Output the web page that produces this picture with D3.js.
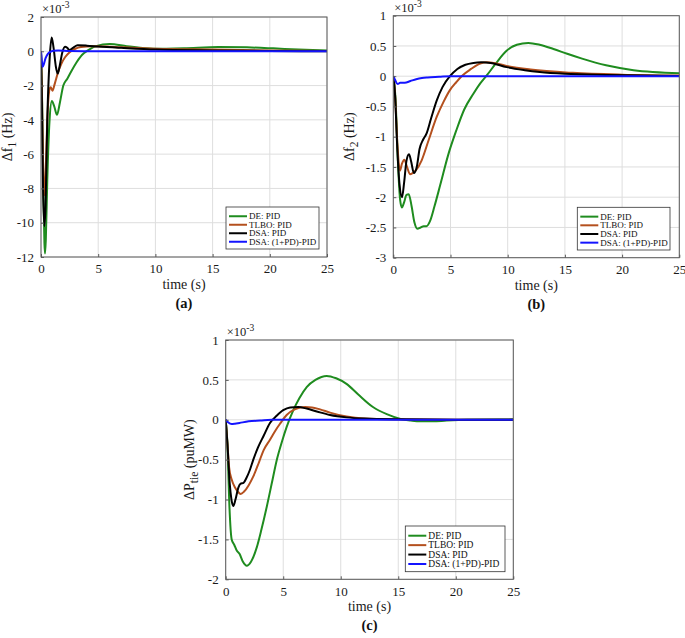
<!DOCTYPE html>
<html><head><meta charset="utf-8">
<script src="https://cdn.jsdelivr.net/npm/d3@7"></script>
<style>
html,body{margin:0;padding:0;background:#fff;}
svg{display:block;font-family:"Liberation Serif","Times New Roman",serif;}
</style></head>
<body>
<svg id="chart" width="685" height="638"></svg>
<script>
// ---------- DATA (values ×10^-3) ----------
const seriesNames = ["DE: PID", "TLBO: PID", "DSA: PID", "DSA: (1+PD)-PID"];
const seriesColors = ["#1f8c1f", "#b4501e", "#000000", "#1414ff"];
const xTicks = [0, 5, 10, 15, 20, 25];

// Panel (a): Δf1
const aTicksY = [-12, -10, -8, -6, -4, -2, 0, 2];
const aT_DE = [0, 0.1, 0.2, 0.3, 0.35, 0.42, 0.55, 0.75, 0.95, 1.15, 1.4, 1.65, 1.95, 2.3, 2.7, 3.1, 3.6, 4.1, 4.8, 6, 7.5, 9.8, 12.5, 15.5, 18, 20.3, 22.5, 25];
const aV_DE = [0, -3, -8, -11.2, -11.8, -11, -7.5, -4, -2.9, -3.2, -3.7, -3, -2, -1.6, -1.1, -0.65, -0.2, 0.05, 0.3, 0.42, 0.3, 0.15, 0.18, 0.25, 0.23, 0.17, 0.1, 0.05];
const aT_TLBO = [0, 0.08, 0.18, 0.3, 0.4, 0.55, 0.75, 0.85, 1.0, 1.2, 1.5, 1.8, 2.1, 2.5, 3, 3.5, 4.5, 6, 8, 10, 15, 20, 25];
const aV_TLBO = [0, -2.5, -6.5, -8.4, -7.2, -4, -2.2, -2.1, -2.3, -1.9, -1.2, -0.7, -0.35, -0.05, 0.15, 0.25, 0.3, 0.27, 0.2, 0.15, 0.1, 0.05, 0.02];
const aT_DSA = [0, 0.08, 0.18, 0.3, 0.4, 0.55, 0.75, 0.93, 1.1, 1.3, 1.46, 1.65, 1.85, 2.1, 2.3, 2.48, 2.8, 3.2, 4, 5, 7, 10, 15, 20, 25];
const aV_DSA = [0, -3, -8, -10.2, -9, -4, -0.5, 0.8, 0.2, -0.9, -1.3, -0.8, -0.1, 0.27, 0.2, 0.08, 0.2, 0.35, 0.33, 0.28, 0.2, 0.1, 0.05, 0.02, 0];
const aT_PD = [0, 0.08, 0.15, 0.25, 0.4, 0.6, 0.8, 1.1, 1.5, 2.5, 5, 25];
const aV_PD = [0, -0.6, -0.9, -0.75, -0.4, -0.15, -0.03, 0.03, 0.05, 0.02, 0, 0];

// Panel (b): Δf2
const bTicksY = [-3, -2.5, -2, -1.5, -1, -0.5, 0, 0.5, 1];
const bT_DE = [0, 0.2, 0.4, 0.6, 0.75, 0.95, 1.15, 1.35, 1.6, 1.85, 2.1, 2.4, 2.65, 2.9, 3.2, 3.6, 4.1, 4.8, 5.5, 6.2, 7, 7.6, 8.2, 9, 9.9, 10.8, 11.8, 12.8, 14, 15.2, 16.5, 18.6, 21, 25];
const bV_DE = [0, -0.4, -1.4, -2.05, -2.17, -2.08, -1.96, -1.95, -2.15, -2.42, -2.52, -2.5, -2.48, -2.48, -2.4, -2.15, -1.8, -1.3, -0.9, -0.55, -0.29, -0.12, 0.02, 0.22, 0.42, 0.52, 0.55, 0.52, 0.45, 0.37, 0.29, 0.18, 0.1, 0.05];
const bT_TLBO = [0, 0.15, 0.35, 0.58, 0.75, 0.96, 1.2, 1.46, 1.7, 2.0, 2.48, 3.1, 3.8, 4.4, 4.95, 5.5, 5.97, 6.8, 7.6, 8.16, 9, 9.9, 12, 15.7, 20, 25];
const bV_TLBO = [0, -0.3, -1.1, -1.56, -1.45, -1.38, -1.5, -1.62, -1.6, -1.55, -1.39, -1.05, -0.67, -0.42, -0.23, -0.1, 0, 0.12, 0.21, 0.23, 0.21, 0.17, 0.11, 0.055, 0.025, 0.01];
const bT_DSA = [0, 0.15, 0.35, 0.55, 0.76, 0.95, 1.15, 1.37, 1.55, 1.8, 2.05, 2.3, 2.6, 2.9, 3.3, 3.8, 4.3, 4.95, 5.6, 6.3, 7.0, 7.7, 8.5, 9.9, 11.5, 12.8, 15, 18.6, 22, 25];
const bV_DSA = [0, -0.3, -1.2, -1.8, -2.0, -1.75, -1.4, -1.29, -1.4, -1.6, -1.5, -1.2, -1.05, -0.95, -0.7, -0.4, -0.18, 0, 0.12, 0.19, 0.22, 0.23, 0.22, 0.15, 0.1, 0.07, 0.04, 0.02, 0.01, 0.005];
const bT_PD = [0, 0.15, 0.38, 0.6, 1, 1.5, 2, 2.5, 3, 4, 5, 25];
const bV_PD = [0, -0.06, -0.13, -0.11, -0.11, -0.08, -0.05, -0.03, -0.02, -0.01, 0, 0];

// Panel (c): ΔPtie
const cTicksY = [-2, -1.5, -1, -0.5, 0, 0.5, 1];
const cT_DE = [0, 0.15, 0.3, 0.52, 0.75, 0.96, 1.2, 1.5, 1.83, 2.2, 2.7, 3.1, 3.57, 4.0, 4.43, 4.9, 5.3, 5.88, 6.4, 7.04, 7.8, 8.78, 9.6, 10.5, 11.5, 12.8, 14, 15.2, 16.1, 16.9, 18, 19.2, 21, 25];
const cV_DE = [0, -0.3, -1.0, -1.5, -1.57, -1.64, -1.68, -1.78, -1.83, -1.78, -1.6, -1.38, -1.09, -0.8, -0.51, -0.27, -0.09, 0.12, 0.27, 0.41, 0.5, 0.55, 0.52, 0.45, 0.32, 0.16, 0.07, 0.01, -0.01, -0.02, -0.02, -0.01, 0, 0.005];
const cT_TLBO = [0, 0.15, 0.3, 0.52, 0.81, 1.05, 1.3, 1.6, 2.0, 2.4, 2.9, 3.3, 3.85, 4.3, 4.72, 5.3, 6, 6.9, 7.5, 8.2, 9.07, 10.5, 12, 15, 20, 25];
const cV_TLBO = [0, -0.3, -0.6, -0.75, -0.85, -0.9, -0.93, -0.9, -0.82, -0.71, -0.53, -0.38, -0.25, -0.14, -0.05, 0.06, 0.13, 0.16, 0.155, 0.13, 0.09, 0.04, 0.015, 0.005, 0, 0];
const cT_DSA = [0, 0.15, 0.35, 0.5, 0.66, 0.85, 1.1, 1.3, 1.55, 1.8, 2.1, 2.4, 2.8, 3.3, 3.85, 4.43, 5.0, 5.6, 6.3, 7.04, 8, 9.07, 10.5, 12, 15, 20, 25];
const cV_DSA = [0, -0.3, -0.8, -1.0, -1.08, -1.0, -0.85, -0.8, -0.79, -0.73, -0.63, -0.5, -0.35, -0.2, -0.04, 0.05, 0.12, 0.155, 0.16, 0.14, 0.1, 0.06, 0.03, 0.015, 0.005, 0, 0];
const cT_PD = [0, 0.2, 0.52, 0.8, 1.2, 2, 3, 4, 6, 25];
const cV_PD = [0, -0.03, -0.054, -0.05, -0.04, -0.02, -0.01, 0, 0, 0];

// ---------- LAYOUT ----------
const panels = [
  {id:"a", left:41, right:327, top:17, bottom:257, yDom:[-12,2], yTicks:aTicksY, fmt:d=>d,
   ylab:["Δf","1"," (Hz)"], ylabX:8, caption:"(a)",
   series:[[aT_DE,aV_DE],[aT_TLBO,aV_TLBO],[aT_DSA,aV_DSA],[aT_PD,aV_PD]],
   leg:{x:226, y:207, w:93, h:42, fs:9}},
  {id:"b", left:393.3, right:679.3, top:15.7, bottom:257.7, yDom:[-3,1], yTicks:bTicksY, fmt:d=>d,
   ylab:["Δf","2"," (Hz)"], ylabX:350, caption:"(b)",
   series:[[bT_DE,bV_DE],[bT_TLBO,bV_TLBO],[bT_DSA,bV_DSA],[bT_PD,bV_PD]],
   leg:{x:577.3, y:207.3, w:92.7, h:42.7, fs:9}},
  {id:"c", left:225.7, right:513.3, top:340, bottom:579.3, yDom:[-2,1], yTicks:cTicksY, fmt:d=>d,
   ylab:["ΔP","tie"," (puMW)"], ylabX:190, caption:"(c)",
   series:[[cT_DE,cV_DE],[cT_TLBO,cV_TLBO],[cT_DSA,cV_DSA],[cT_PD,cV_PD]],
   leg:{x:405.3, y:526, w:99.7, h:45.7, fs:9.5}}
];

const svg = d3.select("#chart");
const defs = svg.append("defs");
const txtCol = "#1a1a1a";

panels.forEach(p => {
  const x = d3.scaleLinear().domain([0,25]).range([p.left, p.right]);
  const y = d3.scaleLinear().domain(p.yDom).range([p.bottom, p.top]);
  const g = svg.append("g");
  const W = p.right - p.left, H = p.bottom - p.top;

  // grid
  g.append("g").selectAll("line.gx").data(xTicks).join("line")
    .attr("x1", d=>x(d)).attr("x2", d=>x(d)).attr("y1", p.top).attr("y2", p.bottom)
    .attr("stroke", "#dedede").attr("stroke-width", 1);
  g.append("g").selectAll("line.gy").data(p.yTicks).join("line")
    .attr("y1", d=>y(d)).attr("y2", d=>y(d)).attr("x1", p.left).attr("x2", p.right)
    .attr("stroke", "#dedede").attr("stroke-width", 1);

  // clip
  defs.append("clipPath").attr("id", "clip"+p.id).append("rect")
    .attr("x", p.left).attr("y", p.top).attr("width", W).attr("height", H);

  const line = d3.line().x(d=>x(d[0])).y(d=>y(d[1])).curve(d3.curveMonotoneX);
  const lg = g.append("g").attr("clip-path", "url(#clip"+p.id+")");
  p.series.forEach((s, i) => {
    const pts = s[0].map((t, k) => [t, s[1][k]]);
    lg.append("path").attr("d", line(pts)).attr("fill", "none")
      .attr("stroke", seriesColors[i]).attr("stroke-width", 2)
      .attr("stroke-linejoin", "round");
  });

  // axes (MATLAB-like inner ticks)
  const xAx = d3.axisBottom(x).tickValues(xTicks).tickSizeInner(-3).tickSizeOuter(0).tickPadding(7);
  const yAx = d3.axisLeft(y).tickValues(p.yTicks).tickSizeInner(-3).tickSizeOuter(0).tickPadding(7).tickFormat(p.fmt);
  const gx = g.append("g").attr("transform", `translate(0,${p.bottom})`).call(xAx);
  const gy = g.append("g").attr("transform", `translate(${p.left},0)`).call(yAx);
  [gx, gy].forEach(a => {
    a.select(".domain").remove();
    a.selectAll("line").attr("stroke", "#5a5a5a");
    a.selectAll("text").attr("fill", txtCol).style("font-size", "13px")
      .style("font-family", '"Liberation Serif",serif');
  });
  // box
  g.append("rect").attr("x", p.left).attr("y", p.top).attr("width", W).attr("height", H)
    .attr("fill", "none").attr("stroke", "#5a5a5a").attr("stroke-width", 1);

  // exponent
  const ex = g.append("text").attr("x", p.left + 1).attr("y", p.top - 4)
    .attr("fill", txtCol).style("font-size", "12.5px");
  ex.append("tspan").text("×10");
  ex.append("tspan").attr("dy", -5).style("font-size", "9.5px").text("-3");

  // x title
  g.append("text").attr("x", (p.left+p.right)/2).attr("y", p.bottom + 32)
    .attr("text-anchor", "middle").attr("fill", txtCol).style("font-size", "14px").text("time (s)");
  // caption
  g.append("text").attr("x", (p.left+p.right)/2).attr("y", p.bottom + 51)
    .attr("text-anchor", "middle").attr("fill", "#111").style("font-size", "14.5px")
    .style("font-weight", "bold").text(p.caption);

  // y title
  const cy = (p.top + p.bottom)/2;
  const yt = g.append("text").attr("transform", `translate(${p.ylabX + 4},${cy}) rotate(-90)`)
    .attr("text-anchor", "middle").attr("fill", txtCol).style("font-size", "14px");
  yt.append("tspan").text(p.ylab[0]);
  yt.append("tspan").attr("dy", 4).style("font-size", "11.5px").text(p.ylab[1]);
  yt.append("tspan").attr("dy", -4).text(p.ylab[2]);

  // legend
  const L = p.leg;
  const lgd = g.append("g");
  lgd.append("rect").attr("x", L.x).attr("y", L.y).attr("width", L.w).attr("height", L.h)
    .attr("fill", "#fff").attr("stroke", "#333").attr("stroke-width", 0.8);
  const rowH = (L.h - 8) / 4;
  seriesNames.forEach((nm, i) => {
    const ry = L.y + 5 + rowH * (i + 0.5);
    lgd.append("line").attr("x1", L.x + 3).attr("x2", L.x + 21).attr("y1", ry).attr("y2", ry)
      .attr("stroke", seriesColors[i]).attr("stroke-width", 2);
    lgd.append("text").attr("x", L.x + 23).attr("y", ry).attr("dy", "0.35em")
      .attr("fill", "#111").style("font-size", L.fs + "px").text(nm);
  });
});
</script>
</body></html>
